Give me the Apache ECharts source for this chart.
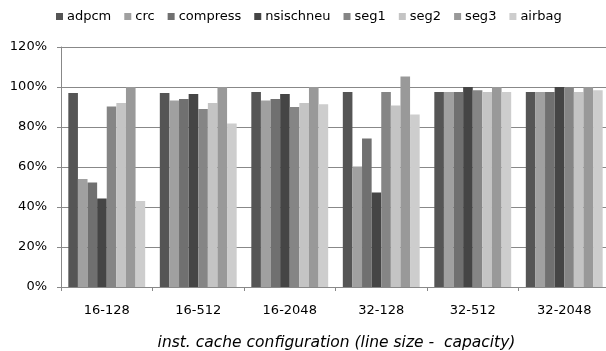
<!DOCTYPE html>
<html>
<head>
<meta charset="utf-8">
<script src="https://cdn.jsdelivr.net/npm/echarts@6/dist/echarts.min.js"></script>
<style>
  html, body { margin: 0; padding: 0; background: #fff; }
  #chart { width: 606px; height: 351px; }
</style>
</head>
<body>
<div id="chart"></div>
<script>
// categories and values (percent)
const configs = ['16-128', '16-512', '16-2048', '32-128', '32-512', '32-2048'];
const adpcm     = [97, 97, 97.5, 97.5, 97.5, 97.5];
const crc       = [54, 93.3, 93.3, 60.2, 97.5, 97.5];
const compress  = [52.2, 94, 94, 74.2, 97.5, 97.5];
const nsischneu = [44.2, 96.5, 96.5, 47.2, 100, 100];
const seg1      = [90.2, 89, 90, 97.5, 98.4, 99.5];
const seg2      = [92, 92, 92, 90.7, 97.5, 97.5];
const seg3      = [100, 100, 100, 105.3, 100, 100];
const airbag    = [43, 81.7, 91.4, 86.3, 97.5, 98.4];

const names  = ['adpcm', 'crc', 'compress', 'nsischneu', 'seg1', 'seg2', 'seg3', 'airbag'];
const values = [adpcm, crc, compress, nsischneu, seg1, seg2, seg3, airbag];
const colors = ['#555555', '#a0a0a0', '#707070', '#454545', '#858585', '#c4c4c4', '#999999', '#cdcdcd'];

const chart = echarts.init(document.getElementById('chart'));
chart.setOption({
  animation: false,
  textStyle: { fontFamily: 'DejaVu Sans, sans-serif' },
  color: colors,
  legend: {
    top: 10,
    left: 56,
    padding: 0,
    itemWidth: 7,
    itemHeight: 7,
    itemGap: 13,
    icon: 'rect',
    textStyle: { fontSize: 13, color: '#000', padding: [0, 0, 0, -1] },
    data: names
  },
  grid: { left: 61, right: -4, top: 47, bottom: 64, containLabel: false, outerBoundsMode: 'none' },
  xAxis: {
    type: 'category',
    data: configs,
    name: 'inst. cache configuration (line size -  capacity)',
    nameLocation: 'middle',
    nameGap: 48,
    nameTextStyle: { fontStyle: 'italic', fontSize: 15.5, color: '#000', padding: [0, 0, 0, 2] },
    axisLine: { lineStyle: { color: '#888', width: 1 } },
    axisTick: { show: true, alignWithLabel: false, length: 4, lineStyle: { color: '#888' } },
    axisLabel: { color: '#000', fontSize: 13, margin: 17 }
  },
  yAxis: {
    type: 'value',
    min: 0,
    max: 120,
    interval: 20,
    axisLine: { show: true, lineStyle: { color: '#888', width: 1 } },
    axisTick: { show: true, length: 4, lineStyle: { color: '#888' } },
    axisLabel: { color: '#000', fontSize: 13, margin: 14, formatter: '{value}%' },
    splitLine: { lineStyle: { color: '#888', width: 1 } }
  },
  series: names.map((n, i) => ({
    name: n,
    type: 'bar',
    data: values[i],
    barGap: '0%',
    barCategoryGap: '16%',
    itemStyle: { color: colors[i] }
  }))
});
</script>
</body>
</html>
